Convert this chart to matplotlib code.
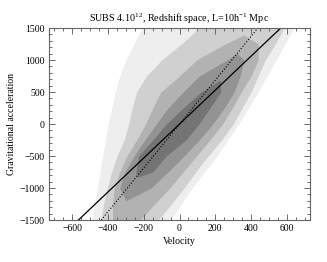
import matplotlib
matplotlib.use("Agg")
import matplotlib.pyplot as plt
from matplotlib.ticker import MultipleLocator

# ---- data ----
y_rows = [1500, 1250, 1000, 750, 500, 250, 0, -250, -500, -750, -1000, -1250, -1500]

# outermost (speckled) region
l1_left = [-210, -255, -300, -335, -360, -380, -400, -415, -430, -445, -460, -475, -490]
l1_right = [640, 590, 540, 490, 440, 385, 330, 270, 210, 140, 70, 10, -50]

# light grey region
l2_left = [110, 10, -100, -185, -240, -265, -285, -310, -350, -380, -405, -425, -440]
l2_right = [585, 535, 480, 440, 400, 350, 300, 235, 160, 90, 25, -45, -120]

# medium grey region
l3_y = [1390, 1250, 1000, 750, 500, 250, 0, -250, -500, -750, -1000, -1250, -1500]
l3_left = [360, 255, 95, 0, -105, -150, -190, -240, -295, -335, -365, -375, -375]
l3_right = [360, 440, 440, 400, 345, 295, 240, 170, 95, 20, -55, -140, -220]

# dark grey region
l4_y = [1110, 1000, 750, 500, 250, 0, -250, -500, -750, -1000, -1200]
l4_left = [320, 265, 110, 20, -65, -130, -195, -255, -305, -335, -300]
l4_right = [320, 360, 340, 305, 250, 186, 110, 25, -65, -160, -300]

# darkest region
l5_y = [690, 500, 250, 0, -250, -500, -750, -830]
l5_left = [229, 120, 20, -75, -150, -230, -245, -235]
l5_right = [229, 230, 170, 108, 35, -75, -150, -235]

fit_slopes = [2.65, 3.42]      # solid, dotted
fit_styles = ["-", ":"]

title = "SUBS 4.10$^{12}$, Redshift space, L=10h$^{-1}$ Mpc"
xlabel = "Velocity"
ylabel = "Gravitational acceleration"

# ---- plot ----
plt.rcParams["font.family"] = ["Liberation Serif", "DejaVu Serif"]
plt.rcParams["mathtext.fontset"] = "custom"
plt.rcParams["mathtext.rm"] = "Liberation Serif"
plt.rcParams["mathtext.it"] = "Liberation Serif:italic"

fig = plt.figure(figsize=(3.27, 2.62), dpi=100)
ax = fig.add_axes([0.150, 0.160, 0.798, 0.733])

ax.fill_betweenx(y_rows, l1_left, l1_right, color="#eeeeee", lw=0)
ax.fill_betweenx(y_rows, l2_left, l2_right, color="#d0d0d0", lw=0)
ax.fill_betweenx(l3_y, l3_left, l3_right, color="#b2b2b2", lw=0)
ax.fill_betweenx(l4_y, l4_left, l4_right, color="#939393", lw=0)
ax.fill_betweenx(l5_y, l5_left, l5_right, color="#747474", lw=0)

for s, ls in zip(fit_slopes, fit_styles):
    ax.axline((0, 0), slope=s, color="black", ls=ls, lw=0.9 if ls == "-" else 0.8)

ax.set_xlim(-730, 730)
ax.set_ylim(-1500, 1500)
ax.xaxis.set_major_locator(MultipleLocator(200))
ax.xaxis.set_minor_locator(MultipleLocator(50))
ax.yaxis.set_major_locator(MultipleLocator(500))
ax.yaxis.set_minor_locator(MultipleLocator(100))
ax.tick_params(which="both", direction="in", top=True, right=True,
               labelsize=7, color="#555555", width=0.6, pad=3)
ax.tick_params(which="major", length=4.5)
ax.tick_params(which="minor", length=2)
for sp in ax.spines.values():
    sp.set_color("#666666")
    sp.set_linewidth(0.8)

ax.set_title(title, fontsize=7.3, pad=4)
ax.set_xlabel(xlabel, fontsize=7, labelpad=2.5)
ax.set_ylabel(ylabel, fontsize=7, labelpad=3)

fig.savefig("out.png", dpi=100)
